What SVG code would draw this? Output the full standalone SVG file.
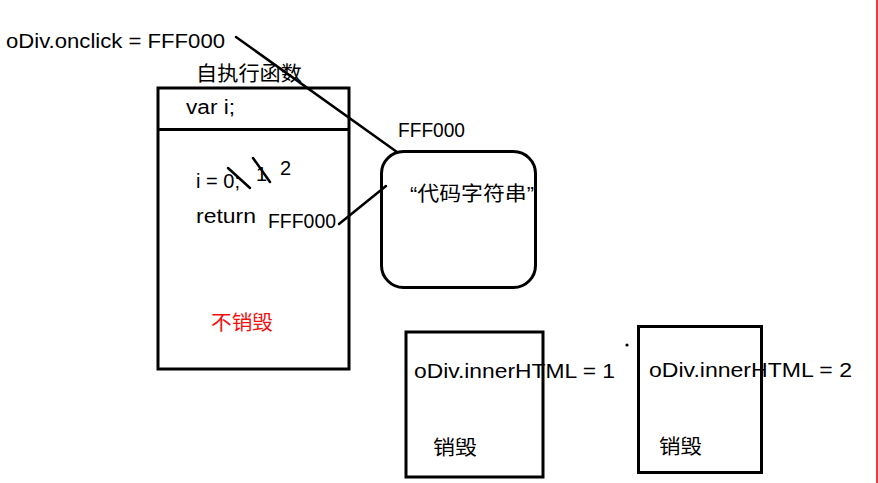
<svg xmlns="http://www.w3.org/2000/svg" width="878" height="483" viewBox="0 0 878 483">
<style>
text{font-family:"Liberation Sans","Noto Sans CJK SC",sans-serif;font-size:20px;fill:#000}
.box{fill:none;stroke:#000;stroke-width:3}
.ln{stroke:#000;stroke-width:2.5;fill:none;stroke-linecap:round}
.red{fill:#f01010}
</style>
<rect width="878" height="483" fill="#fff"/>
<line x1="877" y1="0" x2="877" y2="483" stroke="#e00000" stroke-width="1.5"/>
<text x="6" y="48" textLength="219" lengthAdjust="spacingAndGlyphs">oDiv.onclick = FFF000</text>
<g id="self-exec">
<rect class="box" x="158" y="88" width="191" height="281"/>
<line class="box" x1="158" y1="129.5" x2="349" y2="129.5"/>
<text x="196" y="81" textLength="106" lengthAdjust="spacingAndGlyphs">自执行函数</text>
<text x="186" y="114" textLength="49" lengthAdjust="spacingAndGlyphs">var i;</text>
<text x="196" y="188" textLength="44" lengthAdjust="spacingAndGlyphs">i = 0;</text>
<text x="256" y="181">1</text>
<text x="280" y="175">2</text>
<line class="ln" x1="228" y1="168" x2="250" y2="188"/>
<line class="ln" x1="253" y1="158" x2="270" y2="182"/>
<text x="196" y="223" textLength="60" lengthAdjust="spacingAndGlyphs">return</text>
<text x="268" y="228" textLength="68" lengthAdjust="spacingAndGlyphs">FFF000</text>
<text class="red" x="211" y="330" textLength="62" lengthAdjust="spacingAndGlyphs">不销毁</text>
</g>
<g id="func-obj">
<rect class="box" x="381.5" y="151.5" width="154" height="136" rx="22" ry="22"/>
<text x="398" y="137" textLength="67" lengthAdjust="spacingAndGlyphs">FFF000</text>
<text x="410" y="201" textLength="124" lengthAdjust="spacingAndGlyphs">“代码字符串”</text>
</g>
<g id="scope1">
<rect class="box" x="406" y="332" width="137" height="145"/>
<text x="414" y="378" textLength="201" lengthAdjust="spacingAndGlyphs">oDiv.innerHTML = 1</text>
<text x="433" y="455" textLength="44" lengthAdjust="spacingAndGlyphs">销毁</text>
</g>
<g id="scope2">
<rect class="box" x="638.5" y="326.5" width="123" height="146"/>
<text x="649" y="377" textLength="203" lengthAdjust="spacingAndGlyphs">oDiv.innerHTML = 2</text>
<text x="659" y="454" textLength="43" lengthAdjust="spacingAndGlyphs">销毁</text>
</g>
<circle cx="627" cy="345" r="1.6" fill="#000"/>
<g id="connectors">
<line class="ln" x1="236" y1="37" x2="397" y2="152"/>
<line class="ln" x1="339" y1="224" x2="386" y2="186"/>
</g>
</svg>
